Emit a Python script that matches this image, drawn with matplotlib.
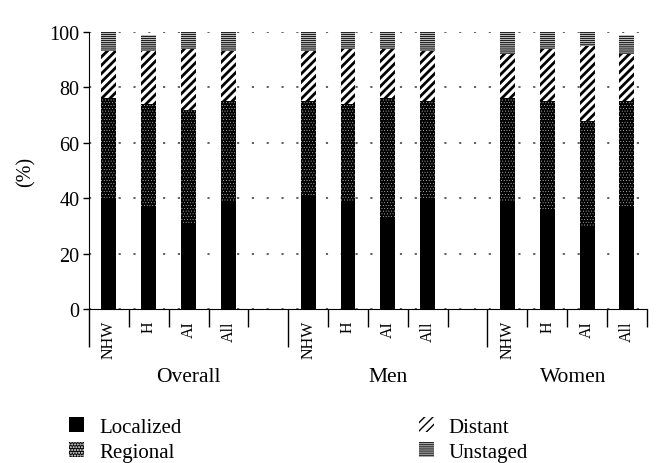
import numpy as np
import matplotlib
matplotlib.use("Agg")
import matplotlib.pyplot as plt
from matplotlib.patches import Patch

plt.rcParams["font.family"] = ["Liberation Serif", "DejaVu Serif"]

groups = ["Overall", "Men", "Women"]
races = ["NHW", "H", "AI", "All"]

# stage shares (%) per group, in race order NHW, H, AI, All
localized = {"Overall": [40, 37, 31, 39], "Men": [41, 39, 33, 40], "Women": [39, 36, 30, 37]}
regional = {"Overall": [36, 37, 41, 36], "Men": [34, 35, 43, 35], "Women": [37, 39, 38, 38]}
distant = {"Overall": [17, 19, 22, 18], "Men": [18, 20, 18, 18], "Women": [16, 19, 27, 17]}
unstaged = {"Overall": [7, 6, 6, 7], "Men": [7, 6, 6, 7], "Women": [8, 6, 5, 7]}

stages = ["Localized", "Regional", "Distant", "Unstaged"]
stage_data = [localized, regional, distant, unstaged]
styles = [
    dict(facecolor="black", edgecolor="black", hatch=None, hlw=1.0),
    dict(facecolor="black", edgecolor="white", hatch="......", hlw=0.2),
    dict(facecolor="white", edgecolor="black", hatch="////", hlw=2.0),
    dict(facecolor="white", edgecolor="#222222", hatch="--------", hlw=1.0),
]

fig = plt.figure(figsize=(6.57, 4.64), dpi=100)
ax = fig.add_axes([0.1355, 0.332, 0.849, 0.597])

# slot layout: 4 bars + empty slot per group
slots = []
for gi, g in enumerate(groups):
    for ri, r in enumerate(races):
        slots.append((gi * 5 + ri, g, ri))

width = 0.375
for si, (stage, data, st) in enumerate(zip(stages, stage_data, styles)):
    with plt.rc_context({"hatch.linewidth": st["hlw"]}):
        for pos, g, ri in slots:
            bottom = sum(stage_data[k][g][ri] for k in range(si))
            b = ax.bar(pos + 0.5, data[g][ri], width, bottom=bottom,
                       color=st["facecolor"], edgecolor=st["edgecolor"],
                       hatch=st["hatch"], linewidth=0, zorder=2)
            for p in b:
                if hasattr(p, "set_hatch_linewidth"):
                    p.set_hatch_linewidth(st["hlw"])

ax.set_xlim(0, 14)
ax.set_ylim(0, 100)
ax.set_yticks([0, 20, 40, 60, 80, 100])
ax.tick_params(axis="y", labelsize=14.5, length=4, width=1, pad=3)
ax.set_ylabel("(%)", fontsize=14.5, labelpad=10)
ax.yaxis.grid(True, linestyle=(0, (1.2, 7)), color="#555555", linewidth=1.3, zorder=0)

for s in ["top", "right"]:
    ax.spines[s].set_visible(False)

# category boundaries as ticks, long ones between groups
bounds = list(range(0, 15))
ax.set_xticks(bounds)
ax.set_xticklabels([])
ax.tick_params(axis="x", which="major", direction="out", width=1, length=13)
for b, t in zip(bounds, ax.xaxis.get_major_ticks()):
    if b in (0, 5, 10):
        t.tick1line.set_markersize(27)

centers = [pos + 0.5 for pos, g, ri in slots]
ax.set_xticks(centers, minor=True)
ax.set_xticklabels([races[ri] for pos, g, ri in slots], minor=True,
                   rotation=90, fontsize=11.5)
ax.tick_params(axis="x", which="minor", length=0, pad=8)
for lbl in ax.get_xticklabels(minor=True):
    lbl.set_verticalalignment("top")

group_centers = [2.5, 7.5, 12.15]
for g, c in zip(groups, group_centers):
    ax.text(c, -0.243, g, transform=ax.get_xaxis_transform(),
            ha="center", va="center", fontsize=15.5)

handles = [Patch(facecolor=st["facecolor"], edgecolor=st["edgecolor"],
                 hatch=st["hatch"], linewidth=0, label=s)
           for s, st in zip(stages, styles)]
fig.legend(handles=handles, ncol=2, loc="lower left",
           bbox_to_anchor=(0.077, -0.038), frameon=False, fontsize=15,
           handlelength=0.72, handleheight=0.72, handletextpad=0.7,
           columnspacing=11.4, labelspacing=0.25)

fig.savefig("out.png", dpi=100)
